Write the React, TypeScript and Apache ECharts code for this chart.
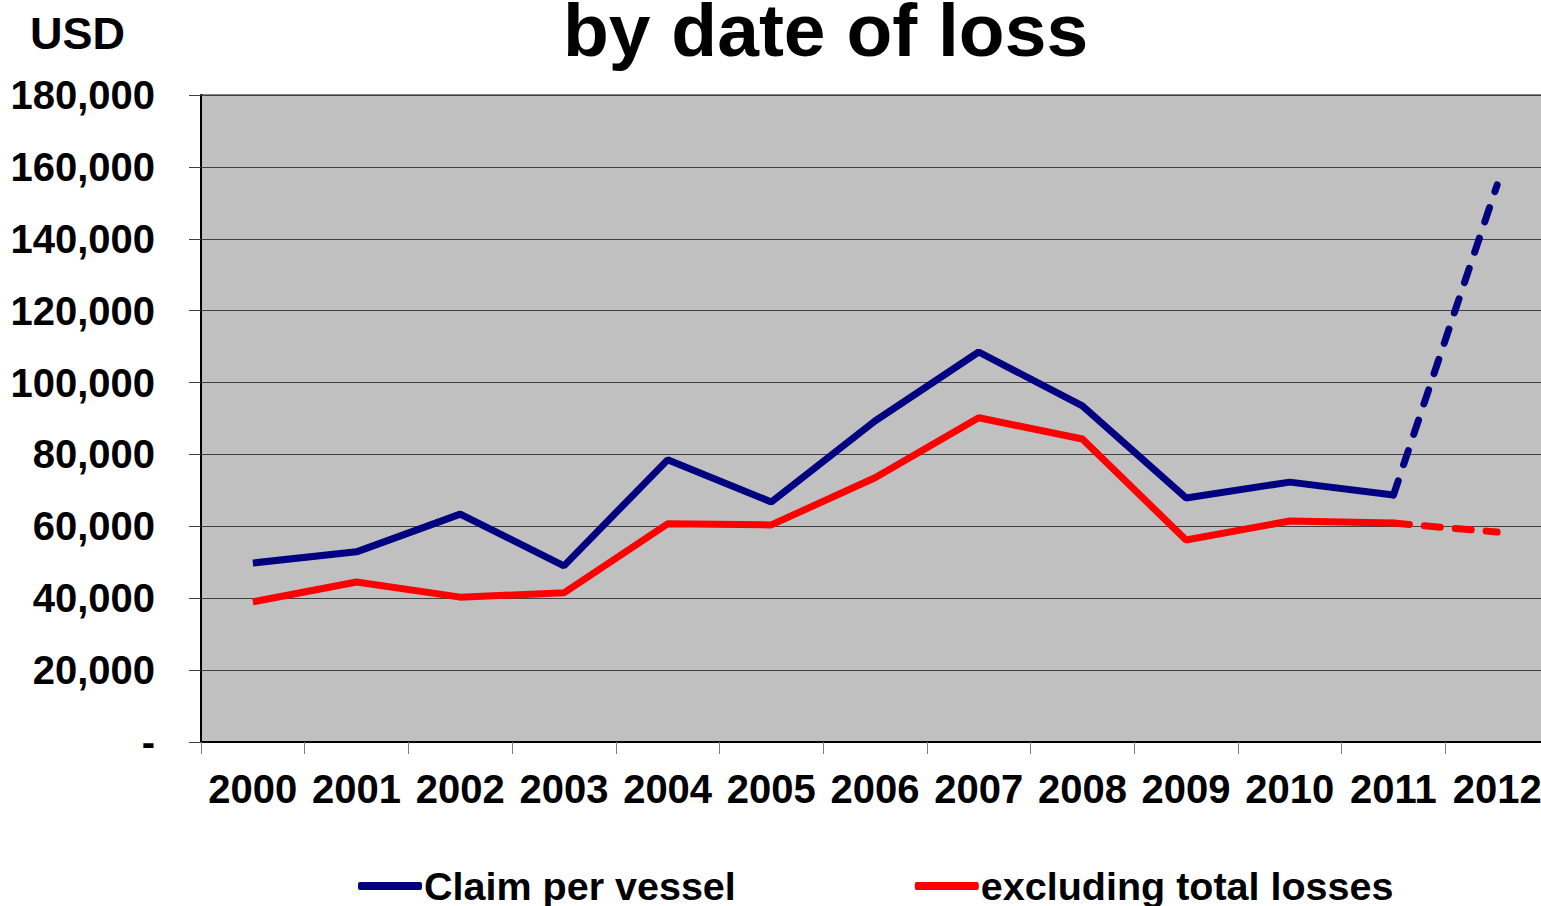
import React, { useEffect, useRef } from "react";
import * as echarts from "echarts";

// Claim cost per vessel by year of loss, USD
const years = ["2000", "2001", "2002", "2003", "2004", "2005", "2006", "2007", "2008", "2009", "2010", "2011", "2012"];
const claimPerVessel = [49800, 52900, 63400, 49000, 78500, 66800, 89300, 108500, 93500, 67900, 72300, 68700, 155000];
const excludingTotalLosses = [39000, 44500, 40300, 41500, 60700, 60400, 73500, 90200, 84300, 56200, 61500, 60900, 58400];
const yTicks = { min: 0, max: 180000, interval: 20000 };

const FONT = "'Liberation Sans', Arial, sans-serif";
const NAVY = "#000080";
const RED = "#ff0000";
const LINE_W = 7;

// 2000–2011 drawn solid; the 2011→2012 step drawn dashed
const solidPart = (vals: number[]) => vals.map((v, i) => (i < vals.length - 1 ? v : null));
const dashedPart = (vals: number[]) => vals.map((v, i) => (i >= vals.length - 2 ? v : null));

export default function App() {
  const ref = useRef<HTMLDivElement>(null);

  useEffect(() => {
    if (!ref.current) return;
    const chart = echarts.init(ref.current, null, { renderer: "svg" });
    const fmt = (v: number) => (v === 0 ? "-" : v.toLocaleString("en-US"));
    chart.setOption({
      animation: false,
      backgroundColor: "#ffffff",
      textStyle: { fontFamily: FONT },
      title: [
        {
          text: "by date of loss",
          left: 558,
          top: -13,
          textStyle: { fontSize: 75, fontWeight: "bold", color: "#000", fontFamily: FONT },
        },
        {
          text: "USD",
          left: 25,
          top: 6,
          textStyle: { fontSize: 45, fontWeight: "bold", color: "#000", fontFamily: FONT },
        },
      ],
      legend: {
        data: ["Claim per vessel", "excluding total losses"],
        left: 358,
        top: 866,
        padding: 0,
        icon: "roundRect",
        itemWidth: 64,
        itemHeight: 8,
        itemGap: 179,
        textStyle: { fontSize: 39.5, fontWeight: "bold", color: "#000", fontFamily: FONT, padding: [0, 0, 0, -3] },
      },
      grid: {
        left: 201,
        top: 95,
        right: 0,
        bottom: 164,
        show: true,
        backgroundColor: "#c0c0c0",
        borderColor: "#808080",
        borderWidth: 2,
      },
      xAxis: {
        type: "category",
        data: years,
        boundaryGap: true,
        axisLine: { lineStyle: { color: "#000", width: 2 } },
        axisTick: { show: true, length: 12, lineStyle: { color: "#808080", width: 1 } },
        axisLabel: { margin: 27, fontSize: 40, fontWeight: "bold", color: "#000", fontFamily: FONT, interval: 0 },
        splitLine: { show: false },
      },
      yAxis: {
        type: "value",
        min: yTicks.min,
        max: yTicks.max,
        interval: yTicks.interval,
        axisLine: { show: true, lineStyle: { color: "#000", width: 2 } },
        axisTick: { show: true, length: 12, lineStyle: { color: "#404040", width: 1 } },
        axisLabel: { margin: 46, fontSize: 40, fontWeight: "bold", color: "#000", fontFamily: FONT, formatter: fmt },
        splitLine: { show: true, lineStyle: { color: "#404040", width: 1 } },
      },
      series: [
        {
          name: "Claim per vessel",
          type: "line",
          data: solidPart(claimPerVessel),
          symbol: "none",
          color: NAVY,
          lineStyle: { color: NAVY, width: LINE_W },
          z: 3,
        },
        {
          name: "Claim per vessel, 2012",
          type: "line",
          data: dashedPart(claimPerVessel),
          symbol: "none",
          color: NAVY,
          lineStyle: { color: NAVY, width: LINE_W, type: [15, 17], cap: "round" },
          z: 3,
        },
        {
          name: "excluding total losses",
          type: "line",
          data: solidPart(excludingTotalLosses),
          symbol: "none",
          color: RED,
          lineStyle: { color: RED, width: LINE_W },
          z: 2,
        },
        {
          name: "excluding total losses, 2012",
          type: "line",
          data: dashedPart(excludingTotalLosses),
          symbol: "none",
          color: RED,
          lineStyle: { color: RED, width: LINE_W, type: [16, 15], cap: "round" },
          z: 2,
        },
      ],
    });
    return () => chart.dispose();
  }, []);

  // The plot runs a few pixels past the right edge of the frame
  return (
    <div style={{ position: "absolute", left: 0, top: 0, width: 1541, height: 906, overflow: "hidden" }}>
      <div ref={ref} style={{ width: 1549, height: 906 }} />
    </div>
  );
}
